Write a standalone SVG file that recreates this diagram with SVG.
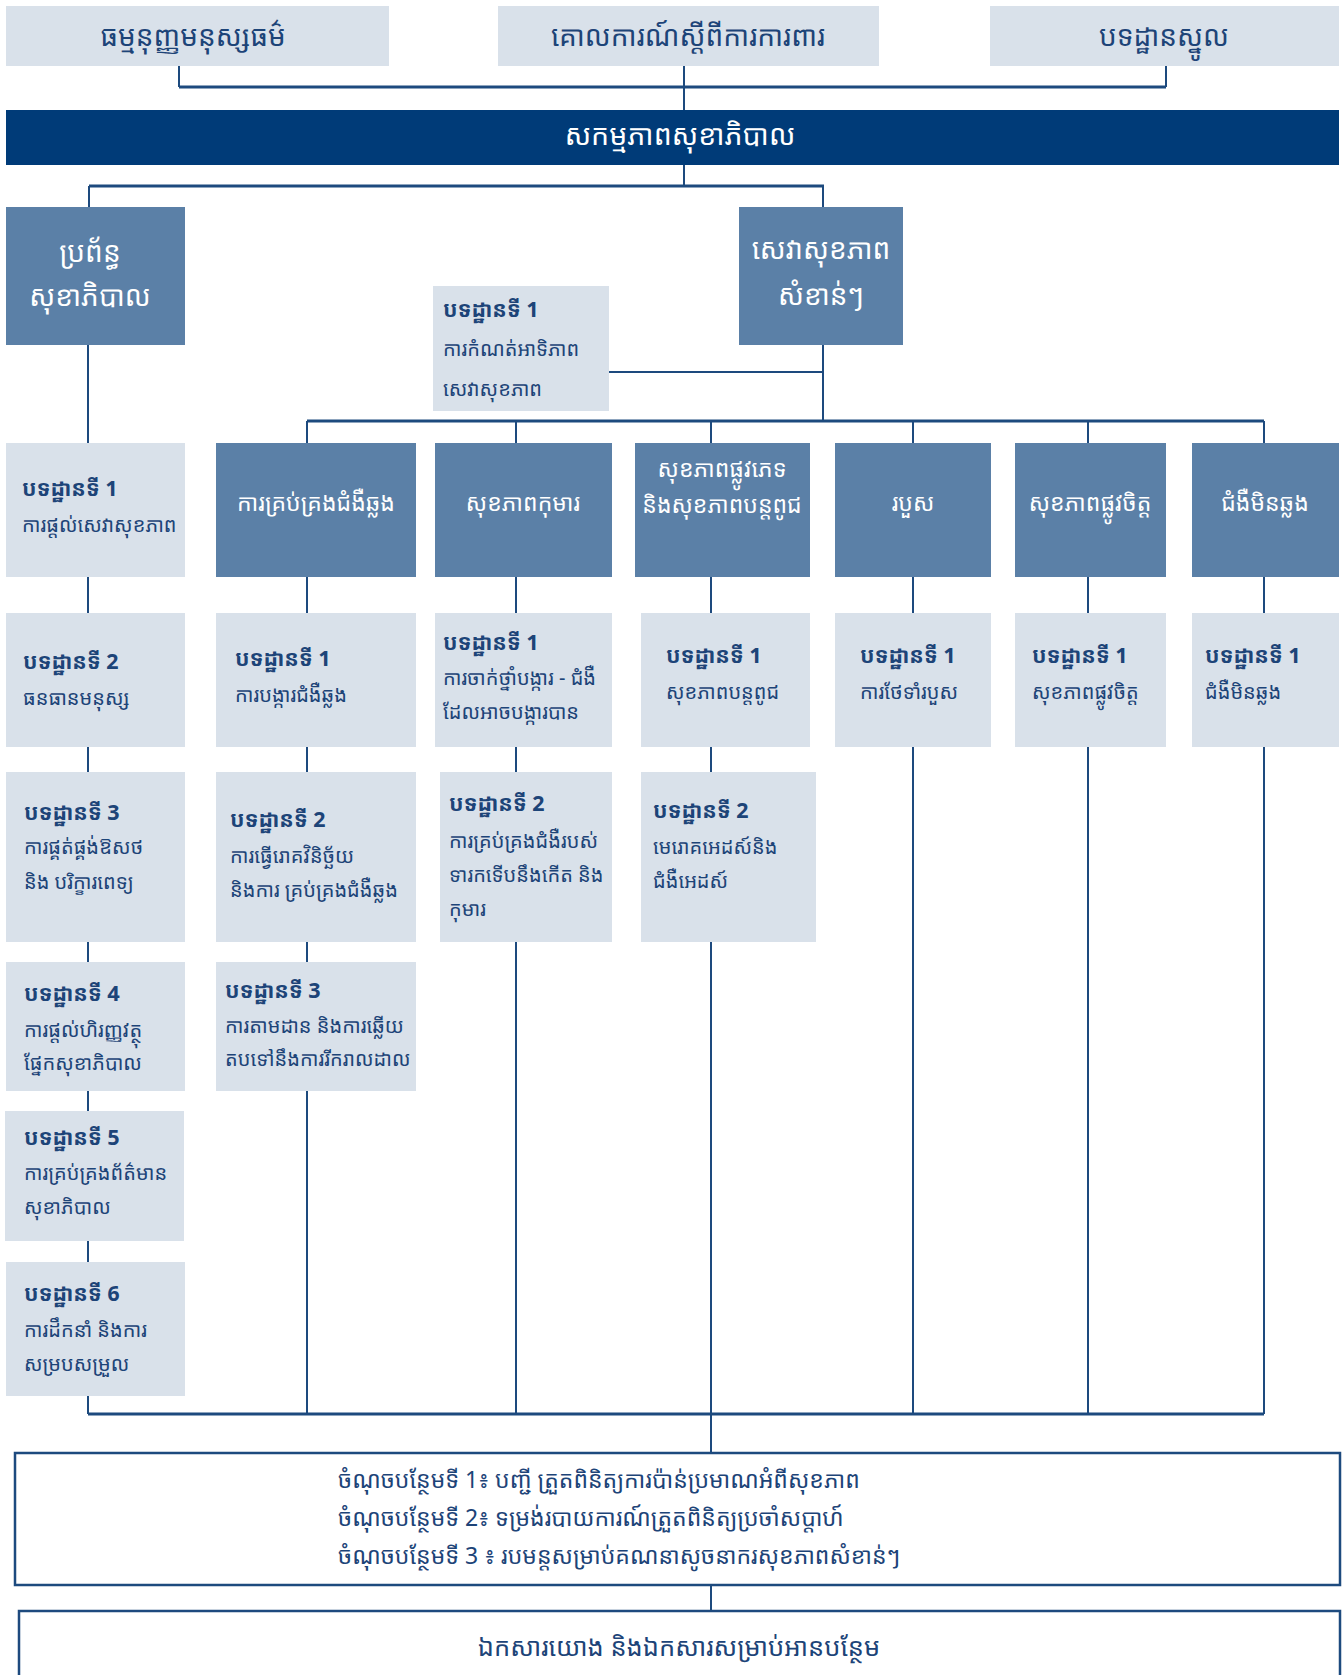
<svg xmlns="http://www.w3.org/2000/svg" width="1343" height="1675" viewBox="0 0 1343 1675">
  <style>
    .light { fill: #d9e1ea; }
    .mid { fill: #5b80a7; }
    .banner { fill: #003b78; }
    .frame { fill: #ffffff; stroke: #1d4a7e; stroke-width: 2.5; }
    .wire { stroke: #1d4a7e; stroke-width: 2; fill: none; }
    .wire-thick { stroke: #1d4a7e; stroke-width: 3; fill: none; }
    text { font-family: "Noto Sans Khmer", "Khmer OS", "Noto Sans", "DejaVu Sans", sans-serif; }
    .top { font-size: 28px; fill: #1d4478; text-anchor: middle; }
    .ban { font-size: 28.5px; fill: #ffffff; text-anchor: middle; }
    .cat { font-size: 23px; fill: #ffffff; text-anchor: middle; }
    .cat-big { font-size: 28px; fill: #ffffff; text-anchor: middle; }
    .hd { font-size: 21.5px; font-weight: bold; fill: #1d4478; }
    .bd { font-size: 20px; fill: #1d4478; }
    .note { font-size: 23px; fill: #1d4478; }
    .foot { font-size: 25.5px; fill: #1d4478; text-anchor: middle; }
  </style>

  <!-- connectors -->
  <g id="connectors">
    <path class="wire" d="M179 66 V87 M1166 66 V87 M684 66 V110"/>
    <path class="wire-thick" d="M179 87 H1166"/>
    <path class="wire" d="M684 165 V186 M89 186 V207 M823 186 V207"/>
    <path class="wire-thick" d="M89 186 H824"/>
    <path class="wire" d="M823 344 V421 M608 372 H823"/>
    <path class="wire-thick" d="M307 421 H1264"/>
    <path class="wire" d="M88 344 V1414 M307 421 V1414 M516 421 V1414 M711 421 V1453 M913 421 V1414 M1088 421 V1414 M1264 421 V1414"/>
    <path class="wire-thick" d="M88 1414 H1264"/>
    <path class="wire" d="M711 1585 V1611"/>
  </g>

  <!-- top row -->
  <g id="charter">
    <rect class="light" x="6" y="6" width="383" height="60"/>
    <text class="top" x="193" y="46">ធម្មនុញ្ញមនុស្សធម៌</text>
  </g>
  <g id="protection">
    <rect class="light" x="498" y="6" width="381" height="60"/>
    <text class="top" x="688" y="46">គោលការណ៍ស្តីពីការការពារ</text>
  </g>
  <g id="core-standards">
    <rect class="light" x="990" y="6" width="349" height="60"/>
    <text class="top" x="1164" y="46">បទដ្ឋានស្នូល</text>
  </g>

  <!-- banner -->
  <g id="health-action">
    <rect class="banner" x="6" y="110" width="1333" height="55"/>
    <text class="ban" x="680" y="145">សកម្មភាពសុខាភិបាល</text>
  </g>

  <!-- second level -->
  <g id="health-systems">
    <rect class="mid" x="6" y="207" width="179" height="138"/>
    <text class="cat-big" x="90" y="262">ប្រព័ន្ធ</text>
    <text class="cat-big" x="90" y="306">សុខាភិបាល</text>
  </g>
  <g id="essential-services">
    <rect class="mid" x="739" y="207" width="164" height="138"/>
    <text class="cat-big" x="821" y="259">សេវាសុខភាព</text>
    <text class="cat-big" x="821" y="305">សំខាន់ៗ</text>
  </g>
  <g id="priority-standard">
    <rect class="light" x="433" y="286" width="176" height="125"/>
    <text class="hd" x="443" y="317">បទដ្ឋានទី 1</text>
    <text class="bd" x="443" y="356">ការកំណត់អាទិភាព</text>
    <text class="bd" x="443" y="396">សេវាសុខភាព</text>
  </g>

  <!-- health systems column -->
  <g id="hs-1">
    <rect class="light" x="6" y="443" width="179" height="134"/>
    <text class="hd" x="22" y="496">បទដ្ឋានទី 1</text>
    <text class="bd" x="22" y="532">ការផ្តល់សេវាសុខភាព</text>
  </g>
  <g id="hs-2">
    <rect class="light" x="6" y="613" width="179" height="134"/>
    <text class="hd" x="23" y="669">បទដ្ឋានទី 2</text>
    <text class="bd" x="23" y="705">ធនធានមនុស្ស</text>
  </g>
  <g id="hs-3">
    <rect class="light" x="6" y="772" width="179" height="170"/>
    <text class="hd" x="24" y="820">បទដ្ឋានទី 3</text>
    <text class="bd" x="24" y="854">ការផ្គត់ផ្គង់ឱសថ</text>
    <text class="bd" x="24" y="889">និង បរិក្ខារពេទ្យ</text>
  </g>
  <g id="hs-4">
    <rect class="light" x="6" y="962" width="179" height="129"/>
    <text class="hd" x="24" y="1001">បទដ្ឋានទី 4</text>
    <text class="bd" x="24" y="1037">ការផ្តល់ហិរញ្ញវត្ថុ</text>
    <text class="bd" x="24" y="1070">ផ្នែកសុខាភិបាល</text>
  </g>
  <g id="hs-5">
    <rect class="light" x="5" y="1111" width="179" height="130"/>
    <text class="hd" x="24" y="1145">បទដ្ឋានទី 5</text>
    <text class="bd" x="24" y="1180">ការគ្រប់គ្រងព័ត៌មាន</text>
    <text class="bd" x="24" y="1214">សុខាភិបាល</text>
  </g>
  <g id="hs-6">
    <rect class="light" x="6" y="1262" width="179" height="134"/>
    <text class="hd" x="24" y="1301">បទដ្ឋានទី 6</text>
    <text class="bd" x="24" y="1337">ការដឹកនាំ និងការ</text>
    <text class="bd" x="24" y="1371">សម្របសម្រួល</text>
  </g>

  <!-- category headers -->
  <g id="communicable">
    <rect class="mid" x="216" y="443" width="200" height="134"/>
    <text class="cat" x="316" y="511">ការគ្រប់គ្រងជំងឺឆ្លង</text>
  </g>
  <g id="child-health">
    <rect class="mid" x="435" y="443" width="177" height="134"/>
    <text class="cat" x="523" y="511">សុខភាពកុមារ</text>
  </g>
  <g id="sexual-reproductive">
    <rect class="mid" x="635" y="443" width="175" height="134"/>
    <text class="cat" x="722" y="477">សុខភាពផ្លូវភេទ</text>
    <text class="cat" x="722" y="513">និងសុខភាពបន្តពូជ</text>
  </g>
  <g id="injury">
    <rect class="mid" x="835" y="443" width="156" height="134"/>
    <text class="cat" x="913" y="511">របួស</text>
  </g>
  <g id="mental-health">
    <rect class="mid" x="1015" y="443" width="151" height="134"/>
    <text class="cat" x="1090" y="511">សុខភាពផ្លូវចិត្ត</text>
  </g>
  <g id="ncd">
    <rect class="mid" x="1192" y="443" width="147" height="134"/>
    <text class="cat" x="1265" y="511">ជំងឺមិនឆ្លង</text>
  </g>

  <!-- standards under categories -->
  <g id="cd-1">
    <rect class="light" x="216" y="613" width="200" height="134"/>
    <text class="hd" x="235" y="666">បទដ្ឋានទី 1</text>
    <text class="bd" x="235" y="702">ការបង្ការជំងឺឆ្លង</text>
  </g>
  <g id="cd-2">
    <rect class="light" x="216" y="772" width="200" height="170"/>
    <text class="hd" x="230" y="827">បទដ្ឋានទី 2</text>
    <text class="bd" x="230" y="863">ការធ្វើរោគវិនិច្ឆ័យ</text>
    <text class="bd" x="230" y="897">និងការ គ្រប់គ្រងជំងឺឆ្លង</text>
  </g>
  <g id="cd-3">
    <rect class="light" x="216" y="962" width="200" height="129"/>
    <text class="hd" x="225" y="998">បទដ្ឋានទី 3</text>
    <text class="bd" x="225" y="1033">ការតាមដាន និងការឆ្លើយ</text>
    <text class="bd" x="225" y="1066">តបទៅនឹងការរីករាលដាល</text>
  </g>
  <g id="ch-1">
    <rect class="light" x="435" y="613" width="177" height="134"/>
    <text class="hd" x="443" y="650">បទដ្ឋានទី 1</text>
    <text class="bd" x="443" y="685">ការចាក់ថ្នាំបង្ការ - ជំងឺ</text>
    <text class="bd" x="443" y="719">ដែលអាចបង្ការបាន</text>
  </g>
  <g id="ch-2">
    <rect class="light" x="440" y="772" width="172" height="170"/>
    <text class="hd" x="449" y="811">បទដ្ឋានទី 2</text>
    <text class="bd" x="449" y="848">ការគ្រប់គ្រងជំងឺរបស់</text>
    <text class="bd" x="449" y="882">ទារកទើបនឹងកើត និង</text>
    <text class="bd" x="449" y="916">កុមារ</text>
  </g>
  <g id="srh-1">
    <rect class="light" x="641" y="613" width="169" height="134"/>
    <text class="hd" x="666" y="663">បទដ្ឋានទី 1</text>
    <text class="bd" x="666" y="699">សុខភាពបន្តពូជ</text>
  </g>
  <g id="srh-2">
    <rect class="light" x="641" y="772" width="175" height="170"/>
    <text class="hd" x="653" y="818">បទដ្ឋានទី 2</text>
    <text class="bd" x="653" y="854">មេរោគអេដស៍និង</text>
    <text class="bd" x="653" y="888">ជំងឺអេដស៍</text>
  </g>
  <g id="inj-1">
    <rect class="light" x="835" y="613" width="156" height="134"/>
    <text class="hd" x="860" y="663">បទដ្ឋានទី 1</text>
    <text class="bd" x="860" y="699">ការថែទាំរបួស</text>
  </g>
  <g id="mh-1">
    <rect class="light" x="1015" y="613" width="151" height="134"/>
    <text class="hd" x="1032" y="663">បទដ្ឋានទី 1</text>
    <text class="bd" x="1032" y="699">សុខភាពផ្លូវចិត្ត</text>
  </g>
  <g id="ncd-1">
    <rect class="light" x="1192" y="613" width="147" height="134"/>
    <text class="hd" x="1205" y="663">បទដ្ឋានទី 1</text>
    <text class="bd" x="1205" y="699">ជំងឺមិនឆ្លង</text>
  </g>

  <!-- appendices -->
  <g id="appendices">
    <rect class="frame" x="15" y="1453" width="1325" height="132"/>
    <text class="note" x="338" y="1488">ចំណុចបន្ថែមទី 1៖ បញ្ជី ត្រួតពិនិត្យការប៉ាន់ប្រមាណអំពីសុខភាព</text>
    <text class="note" x="338" y="1526">ចំណុចបន្ថែមទី 2៖ ទម្រង់របាយការណ៍ត្រួតពិនិត្យប្រចាំសប្តាហ៍</text>
    <text class="note" x="338" y="1564">ចំណុចបន្ថែមទី 3 ៖ របមន្តសម្រាប់គណនាសូចនាករសុខភាពសំខាន់ៗ</text>
  </g>
  <g id="references">
    <rect class="frame" x="19" y="1611" width="1321" height="80"/>
    <text class="foot" x="679" y="1656">ឯកសារយោង និងឯកសារសម្រាប់អានបន្ថែម</text>
  </g>
</svg>
